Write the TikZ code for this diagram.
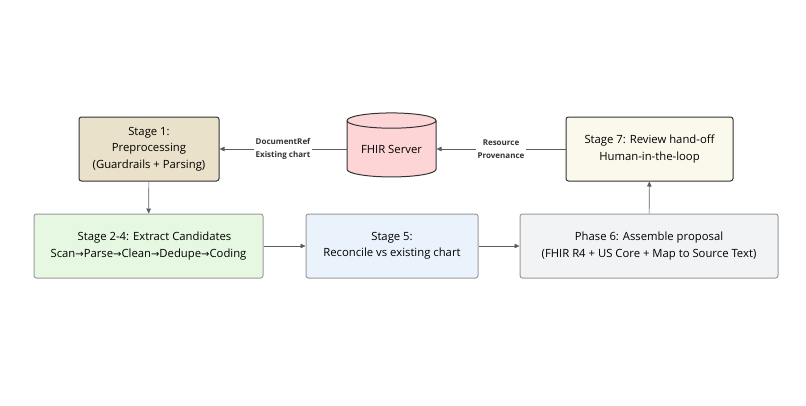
\documentclass[tikz,border=0pt]{standalone}
\usepackage{fontspec}
\setmainfont{Open Sans}
\newfontfamily\djv{DejaVu Sans}
\newcommand{\ar}{{\djv\fontsize{10}{12}\selectfont →}}
\usetikzlibrary{shapes.geometric,arrows.meta}
\definecolor{dk}{HTML}{333333}
\definecolor{lt}{HTML}{9A9A9A}
\definecolor{c1}{HTML}{E9E1C9}
\definecolor{c2}{HTML}{E6F8E2}
\definecolor{c5}{HTML}{EAF3FC}
\definecolor{c6}{HTML}{F2F3F5}
\definecolor{c7}{HTML}{FBF8EC}
\definecolor{cdb}{HTML}{FDD5D7}
\tikzset{
 box/.style={draw=#1,rounded corners=2.5pt,line width=1pt,align=center,font=\fontsize{11.3}{16.5}\selectfont,inner sep=0pt},
 lbl/.style={font=\bfseries\fontsize{8}{13}\selectfont,fill=white,align=center,text=dk,inner sep=2pt},
 arr/.style={draw=dk!80,line width=0.6pt,-{Triangle[length=5pt,width=4.5pt]}}
}
\begin{document}
\begin{tikzpicture}[x=1pt,y=-1pt]
\useasboundingbox (0,0) rectangle (806,405);
\node[box=dk,fill=c1,minimum width=140pt,minimum height=64pt] (s1) at (149,149) {Stage 1:\\Preprocessing\\(Guardrails + Parsing)};
\node[box=lt,fill=c2,minimum width=229pt,minimum height=64pt] (s2) at (148.5,246) {\hspace*{12pt}Stage 2-4: Extract Candidates\\Scan\ar Parse\ar Clean\ar Dedupe\ar Coding};
\node[box=lt,fill=c5,minimum width=172pt,minimum height=64pt] (s5) at (392,246) {Stage 5:\\Reconcile vs existing chart};
\node[box=lt,fill=c6,minimum width=258pt,minimum height=64pt] (s6) at (649,246) {Phase 6: Assemble proposal\\(FHIR R4 + US Core + Map to Source Text)};
\node[box=dk,fill=c7,minimum width=167pt,minimum height=64pt] (s7) at (649.5,149) {Stage 7: Review hand-off\\Human-in-the-loop};
\node[cylinder,shape border rotate=90,draw=dk,line width=1pt,fill=cdb,minimum width=89pt,minimum height=64pt,aspect=0.25,font=\fontsize{11.3}{14}\selectfont,inner sep=0pt] (db) at (391.5,149) {FHIR Server};
\draw[arr] (db) -- node[lbl]{DocumentRef\\Existing chart} (s1);
\draw[arr] (s7) -- node[lbl]{Resource\\Provenance} (db);
\draw[arr] (s1) -- (s2);
\draw[arr] (s2) -- (s5);
\draw[arr] (s5) -- (s6);
\draw[arr] (s6) -- (s7);
\end{tikzpicture}
\end{document}
